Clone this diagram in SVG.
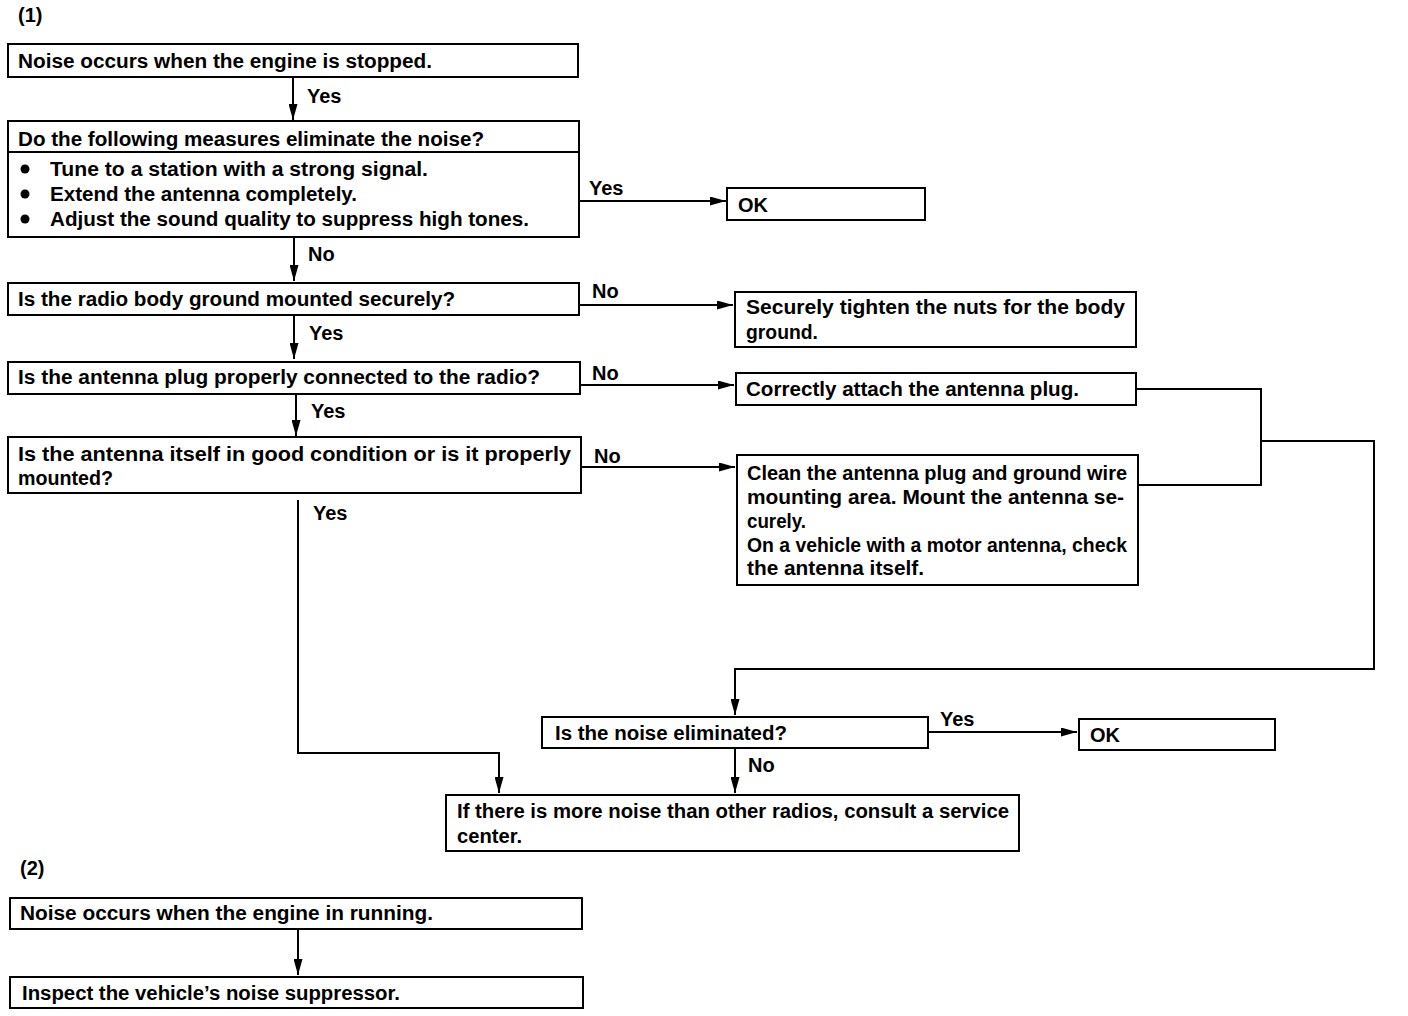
<svg xmlns="http://www.w3.org/2000/svg" width="1408" height="1016" viewBox="0 0 1408 1016">
<style>
.box{fill:#fff;stroke:#000;stroke-width:2}
.t{font-family:"Liberation Sans",Arial,sans-serif;font-size:20px;font-weight:bold;fill:#000}
.c{fill:none;stroke:#000;stroke-width:2}
</style>
<defs>
<marker id="ah" viewBox="0 0 16 9" refX="16" refY="4.5" markerWidth="16" markerHeight="9" markerUnits="userSpaceOnUse" orient="auto">
<path d="M0,0 L16,4.5 L0,9 z" fill="#000"/>
</marker>
</defs>
<rect width="1408" height="1016" fill="#fff"/>
<text class="t" x="18" y="22">(1)</text>
<text class="t" x="20" y="875">(2)</text>

<g id="connectors">
<path class="c" d="M293,77 V120" marker-end="url(#ah)"/>
<path class="c" d="M579,201 H726" marker-end="url(#ah)"/>
<path class="c" d="M294,237 V281" marker-end="url(#ah)"/>
<path class="c" d="M579,305 H733" marker-end="url(#ah)"/>
<path class="c" d="M294,315 V359" marker-end="url(#ah)"/>
<path class="c" d="M580,385 H734" marker-end="url(#ah)"/>
<path class="c" d="M296,394 V436" marker-end="url(#ah)"/>
<path class="c" d="M581,467 H735" marker-end="url(#ah)"/>
<path class="c" d="M1136,389 H1261 V485 H1138"/>
<path class="c" d="M1261,441 H1374 V669 H735 V715" marker-end="url(#ah)"/>
<path class="c" d="M298,500 V753 H499 V793" marker-end="url(#ah)"/>
<path class="c" d="M928,732 H1077" marker-end="url(#ah)"/>
<path class="c" d="M735,748 V793" marker-end="url(#ah)"/>
<path class="c" d="M298,929 V975" marker-end="url(#ah)"/>
<text class="t" x="307" y="103">Yes</text>
<text class="t" x="589" y="195">Yes</text>
<text class="t" x="308" y="261">No</text>
<text class="t" x="592" y="298">No</text>
<text class="t" x="309" y="340">Yes</text>
<text class="t" x="592" y="380">No</text>
<text class="t" x="311" y="418">Yes</text>
<text class="t" x="594" y="463">No</text>
<text class="t" x="313" y="520">Yes</text>
<text class="t" x="940" y="726">Yes</text>
<text class="t" x="748" y="772">No</text>
</g>

<g id="n1">
<rect class="box" x="8" y="44" width="570" height="33"/>
<text class="t" x="18" y="68" textLength="414" lengthAdjust="spacingAndGlyphs">Noise occurs when the engine is stopped.</text>
</g>
<g id="n2">
<rect class="box" x="8" y="121" width="571" height="116"/>
<line class="c" x1="8" y1="152" x2="579" y2="152"/>
<text class="t" x="18" y="146" textLength="466" lengthAdjust="spacingAndGlyphs">Do the following measures eliminate the noise?</text>
<circle cx="25" cy="169" r="4.5"/>
<circle cx="25" cy="194" r="4.5"/>
<circle cx="25" cy="219" r="4.5"/>
<text class="t" x="50" y="176" textLength="378" lengthAdjust="spacingAndGlyphs">Tune to a station with a strong signal.</text>
<text class="t" x="50" y="201" textLength="307" lengthAdjust="spacingAndGlyphs">Extend the antenna completely.</text>
<text class="t" x="50" y="226" textLength="479" lengthAdjust="spacingAndGlyphs">Adjust the sound quality to suppress high tones.</text>
</g>
<g id="ok1">
<rect class="box" x="727" y="188" width="198" height="32"/>
<text class="t" x="738" y="212">OK</text>
</g>
<g id="n3">
<rect class="box" x="8" y="283" width="571" height="32"/>
<text class="t" x="18" y="306" textLength="437" lengthAdjust="spacingAndGlyphs">Is the radio body ground mounted securely?</text>
</g>
<g id="r1">
<rect class="box" x="735" y="292" width="401" height="55"/>
<text class="t" x="746" y="314" textLength="379" lengthAdjust="spacingAndGlyphs">Securely tighten the nuts for the body</text>
<text class="t" x="746" y="339" textLength="72" lengthAdjust="spacingAndGlyphs">ground.</text>
</g>
<g id="n4">
<rect class="box" x="8" y="362" width="572" height="32"/>
<text class="t" x="18" y="384" textLength="522" lengthAdjust="spacingAndGlyphs">Is the antenna plug properly connected to the radio?</text>
</g>
<g id="r2">
<rect class="box" x="736" y="373" width="400" height="32"/>
<text class="t" x="746" y="396" textLength="333" lengthAdjust="spacingAndGlyphs">Correctly attach the antenna plug.</text>
</g>
<g id="n5">
<rect class="box" x="8" y="437" width="573" height="56"/>
<text class="t" x="18" y="461" textLength="553" lengthAdjust="spacingAndGlyphs">Is the antenna itself in good condition or is it properly</text>
<text class="t" x="18" y="485" textLength="95" lengthAdjust="spacingAndGlyphs">mounted?</text>
</g>
<g id="r3">
<rect class="box" x="737" y="455" width="401" height="130"/>
<text class="t" x="747" y="480" textLength="380" lengthAdjust="spacingAndGlyphs">Clean the antenna plug and ground wire</text>
<text class="t" x="747" y="504" textLength="377" lengthAdjust="spacingAndGlyphs">mounting area. Mount the antenna se-</text>
<text class="t" x="747" y="528" textLength="59" lengthAdjust="spacingAndGlyphs">curely.</text>
<text class="t" x="747" y="552" textLength="380" lengthAdjust="spacingAndGlyphs">On a vehicle with a motor antenna, check</text>
<text class="t" x="747" y="575" textLength="177" lengthAdjust="spacingAndGlyphs">the antenna itself.</text>
</g>
<g id="n6">
<rect class="box" x="542" y="717" width="386" height="31"/>
<text class="t" x="555" y="740" textLength="232" lengthAdjust="spacingAndGlyphs">Is the noise eliminated?</text>
</g>
<g id="ok2">
<rect class="box" x="1079" y="719" width="196" height="31"/>
<text class="t" x="1090" y="742">OK</text>
</g>
<g id="r4">
<rect class="box" x="446" y="795" width="573" height="56"/>
<text class="t" x="457" y="818" textLength="552" lengthAdjust="spacingAndGlyphs">If there is more noise than other radios, consult a service</text>
<text class="t" x="457" y="843" textLength="65" lengthAdjust="spacingAndGlyphs">center.</text>
</g>
<g id="m1">
<rect class="box" x="10" y="898" width="572" height="31"/>
<text class="t" x="20" y="920" textLength="413" lengthAdjust="spacingAndGlyphs">Noise occurs when the engine in running.</text>
</g>
<g id="m2">
<rect class="box" x="10" y="977" width="573" height="31"/>
<text class="t" x="22" y="1000" textLength="378" lengthAdjust="spacingAndGlyphs">Inspect the vehicle’s noise suppressor.</text>
</g>
</svg>
